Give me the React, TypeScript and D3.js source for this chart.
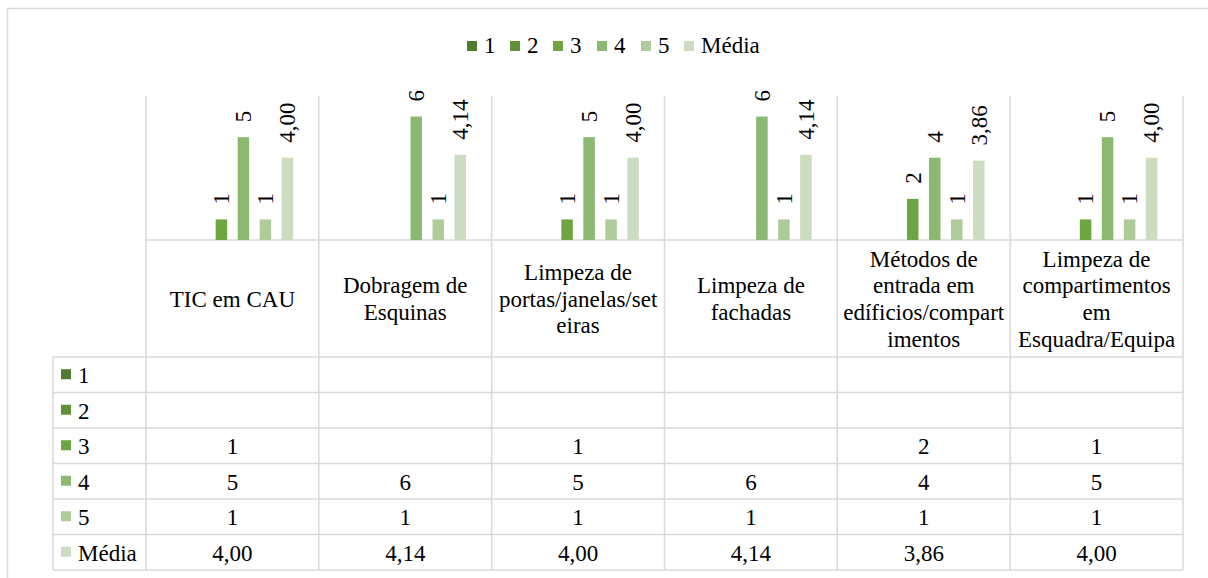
import React from "react";
import * as d3 from "d3";

const seriesNames = ["1", "2", "3", "4", "5", "Média"];
const seriesColors = ["#507b31", "#5e9138", "#6ca542", "#8cb971", "#aecb99", "#cbdcc0"];
const categoryLines: string[][] = [
  ["TIC em CAU"],
  ["Dobragem de", "Esquinas"],
  ["Limpeza de", "portas/janelas/set", "eiras"],
  ["Limpeza de", "fachadas"],
  ["Métodos de", "entrada em", "edíficios/compart", "imentos"],
  ["Limpeza de", "compartimentos", "em", "Esquadra/Equipa"],
];
const s1: (number | null)[] = [null, null, null, null, null, null];
const s2: (number | null)[] = [null, null, null, null, null, null];
const s3: (number | null)[] = [1, null, 1, null, 2, 1];
const s4: (number | null)[] = [5, 6, 5, 6, 4, 5];
const s5: (number | null)[] = [1, 1, 1, 1, 1, 1];
const media: (number | null)[] = [4.0, 4.14, 4.0, 4.14, 3.86, 4.0];
const seriesValues = [s1, s2, s3, s4, s5, media];
const yMax = 7;

const FONT = "Liberation Serif, Times New Roman, DejaVu Serif, serif";
const GRID = "#d9d9d9";

function fmt(si: number, v: number) {
  return si === 5 ? v.toFixed(2).replace(".", ",") : String(v);
}

export default function App() {
  const W = 1208, H = 578;
  const left = 146, right = 1183;
  const plotTop = 96, plotBottom = 240;
  const headerBottom = 357;
  const rowH = 35.5;
  const tableLeft = 53;
  const fs = 23;

  const cats = categoryLines.map((_, i) => String(i));
  const x = d3.scaleBand<string>().domain(cats).range([left, right]).padding(0);
  const y = d3.scaleLinear().domain([0, yMax]).range([plotBottom, plotTop]);
  const slot = 22, barW = 11.5;
  const nRows = seriesNames.length;
  const tableBottom = headerBottom + nRows * rowH;

  const legendX0 = 467;
  const legendOffsets = [0, 43, 86, 130, 174, 217];
  const tStyle = { fontFamily: FONT, fontSize: fs };

  return (
    <svg width={W} height={H} style={{ position: "absolute", left: 0, top: 0, background: "#fff", fontFamily: FONT }}>
      <rect x={0} y={0} width={W} height={H} fill="#fff" />
      <rect x={7.5} y={8.5} width={1240} height={600} fill="none" stroke={GRID} strokeWidth={1.5} />

      {/* legend */}
      {seriesNames.map((n, i) => {
        const lx = legendX0 + legendOffsets[i];
        return (
          <g key={n}>
            <rect x={lx} y={41} width={10} height={10} fill={seriesColors[i]} />
            <text x={lx + 17} y={53} style={tStyle} fill="#000">{n}</text>
          </g>
        );
      })}

      {/* grid lines */}
      {d3.range(cats.length + 1).map((i) => {
        const xx = i < cats.length ? x(cats[i])! : right;
        return <line key={"v" + i} x1={xx} x2={xx} y1={plotTop} y2={tableBottom} stroke={GRID} strokeWidth={1.5} />;
      })}
      <line x1={left} x2={right} y1={plotBottom} y2={plotBottom} stroke={GRID} strokeWidth={1.5} />
      {d3.range(nRows + 1).map((r) => {
        const yy = headerBottom + r * rowH;
        return <line key={"h" + r} x1={tableLeft} x2={right} y1={yy} y2={yy} stroke={GRID} strokeWidth={1.5} />;
      })}
      <line x1={tableLeft} x2={tableLeft} y1={headerBottom} y2={tableBottom} stroke={GRID} strokeWidth={1.5} />

      {/* bars */}
      {seriesValues.map((vals, si) =>
        vals.map((v, ci) => {
          if (v == null) return null;
          const cx = x(cats[ci])! + x.bandwidth() / 2 + (si - 2.5) * slot;
          const top = y(v);
          return (
            <g key={si + "-" + ci}>
              <rect x={cx - barW / 2} y={top} width={barW} height={plotBottom - top} fill={seriesColors[si]} />
              <text
                transform={`translate(${cx + 7.8},${top - 15}) rotate(-90)`}
                style={tStyle}
                fill="#000"
              >
                {fmt(si, v)}
              </text>
            </g>
          );
        })
      )}

      {/* header categories */}
      {categoryLines.map((lines, ci) => {
        const cx = x(cats[ci])! + x.bandwidth() / 2;
        const cy = (plotBottom + headerBottom) / 2;
        const lh = 26.67;
        const first = cy - ((lines.length - 1) * lh) / 2 + 8.2;
        return (
          <text key={"c" + ci} textAnchor="middle" style={tStyle} fill="#000">
            {lines.map((l, li) => (
              <tspan key={li} x={cx} y={first + li * lh}>{l}</tspan>
            ))}
          </text>
        );
      })}

      {/* table rows */}
      {seriesNames.map((n, si) => {
        const ry = headerBottom + si * rowH;
        const cy = ry + rowH / 2;
        return (
          <g key={"r" + si}>
            <rect x={61} y={cy - 5.5} width={10} height={10} fill={seriesColors[si]} />
            <text x={78} y={cy + 8.5} style={tStyle} fill="#000">{n}</text>
            {seriesValues[si].map((v, ci) =>
              v == null ? null : (
                <text key={ci} x={x(cats[ci])! + x.bandwidth() / 2} y={cy + 8.5} textAnchor="middle" style={tStyle} fill="#000">
                  {fmt(si, v)}
                </text>
              )
            )}
          </g>
        );
      })}
    </svg>
  );
}
